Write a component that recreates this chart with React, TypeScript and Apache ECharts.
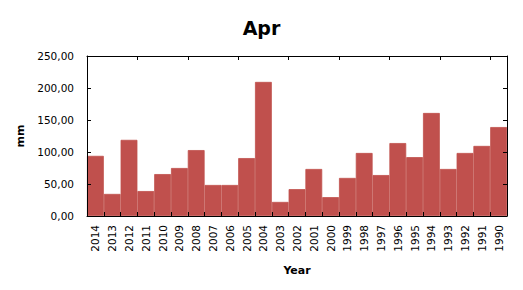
import React, { useEffect, useRef } from "react";
import * as echarts from "echarts";

const years = ["2014","2013","2012","2011","2010","2009","2008","2007","2006","2005","2004","2003","2002","2001","2000","1999","1998","1997","1996","1995","1994","1993","1992","1991","1990"];
const precipitation = [94, 34.5, 119, 39, 65.5, 75, 103, 48.5, 48.5, 90.5, 209.5, 22, 42, 73.5, 29.5, 59.5, 98.5, 64, 114, 92, 161, 73.5, 98.5, 109.5, 139];
const yTicks = { min: 0, max: 250, interval: 50 };

const FONT = "DejaVu Sans";
const BAR = "#C0504D";

export default function App() {
  const ref = useRef<HTMLDivElement>(null);
  useEffect(() => {
    if (!ref.current) return;
    const chart = echarts.init(ref.current, null, { renderer: "svg" });
    const lineStyle = { color: "#000", width: 1 };
    chart.setOption({
      animation: false,
      title: {
        text: "Apr",
        left: "center",
        top: 13,
        textStyle: { fontFamily: FONT, fontSize: 19, fontWeight: "bold", color: "#000" },
      },
      grid: { left: 87, top: 56, right: 16, bottom: 74 },
      xAxis: [
        {
          type: "category",
          data: years,
          position: "bottom",
          name: "Year",
          nameLocation: "middle",
          nameGap: 49,
          nameTextStyle: { fontFamily: FONT, fontSize: 11, fontWeight: "bold", color: "#000" },
          axisLine: { show: true, onZero: false, lineStyle },
          axisTick: { show: true, inside: true, length: 4, lineStyle },
          axisLabel: { rotate: 90, fontFamily: FONT, fontSize: 10.5, color: "#000", margin: 9, interval: 0 },
          z: 10,
        },
        {
          type: "category",
          data: years,
          position: "top",
          axisLine: { show: true, onZero: false, lineStyle },
          axisTick: { show: true, inside: true, length: 4, lineStyle },
          axisLabel: { show: false },
          z: 10,
        },
      ],
      yAxis: [
        {
          type: "value",
          min: yTicks.min,
          max: yTicks.max,
          interval: yTicks.interval,
          position: "left",
          name: "mm",
          nameLocation: "middle",
          nameGap: 56,
          nameTextStyle: { fontFamily: FONT, fontSize: 11, fontWeight: "bold", color: "#000" },
          axisLine: { show: true, onZero: false, lineStyle },
          axisTick: { show: true, inside: true, length: 4, lineStyle },
          splitLine: { show: false },
          axisLabel: {
            fontFamily: FONT,
            fontSize: 10.5,
            color: "#000",
            margin: 13,
            formatter: (v: number) => v.toFixed(2).replace(".", ","),
          },
          z: 10,
        },
        {
          type: "value",
          min: yTicks.min,
          max: yTicks.max,
          interval: yTicks.interval,
          position: "right",
          axisLine: { show: true, onZero: false, lineStyle },
          axisTick: { show: true, inside: true, length: 4, lineStyle },
          splitLine: { show: false },
          axisLabel: { show: false },
          z: 10,
        },
      ],
      series: [
        {
          type: "bar",
          data: precipitation,
          barCategoryGap: "0%",
          itemStyle: { color: BAR, borderColor: BAR, borderWidth: 0.8 },
        },
      ],
    });
    return () => chart.dispose();
  }, []);
  return <div ref={ref} style={{ width: 523, height: 290, marginLeft: -8, marginTop: -8 }} />;
}
